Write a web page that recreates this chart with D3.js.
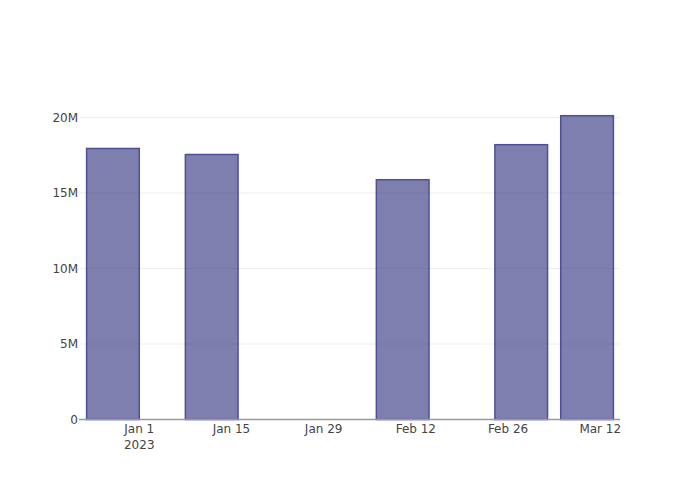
<!DOCTYPE html>
<html>
<head>
<meta charset="utf-8">
<script src="https://cdn.jsdelivr.net/npm/d3@7"></script>
<style>
  body { margin: 0; background: #fff; }
  text { font-family: "DejaVu Sans", sans-serif; font-size: 12px; fill: #444; }
</style>
</head>
<body>
<script>
// bar data (one bar per date)
var dates = ["2022-12-28", "2023-01-12", "2023-02-10", "2023-02-28", "2023-03-10"]
var values = [17.95e6, 17.55e6, 15.88e6, 18.2e6, 20.12e6]

var yTicks = [0, 5e6, 10e6, 15e6, 20e6]
var yTickLabels = ["0", "5M", "10M", "15M", "20M"]
var xTicks = ["2023-01-01", "2023-01-15", "2023-01-29", "2023-02-12", "2023-02-26", "2023-03-12"]
var xTickLabels = ["Jan 1", "Jan 15", "Jan 29", "Feb 12", "Feb 26", "Mar 12"]

var width = 700, height = 500
var left = 80, right = 620, bottom = 419.5

var parse = d3.utcParse("%Y-%m-%d")
var day = 864e5

var x = d3.scaleUtc()
    .domain([parse("2022-12-23"), parse("2023-03-15")])
    .range([left, right])

var y = d3.scaleLinear()
    .domain([0, 20e6])
    .range([bottom, 117.5])

var svg = d3.select("body").append("svg")
    .attr("width", width)
    .attr("height", height)

// grid
svg.append("g").selectAll("line")
    .data(yTicks.slice(1))
    .enter().append("line")
    .attr("x1", left).attr("x2", right)
    .attr("y1", function(d) { return y(d); })
    .attr("y2", function(d) { return y(d); })
    .attr("stroke", "#eee")
    .attr("stroke-width", 1)

// bars, width = 0.8 of the smallest gap (10 days)
var barDays = 8
svg.append("g").selectAll("rect")
    .data(dates)
    .enter().append("rect")
    .attr("x", function(d) { return x(new Date(parse(d).getTime() - barDays / 2 * day)); })
    .attr("width", function(d) {
      var t = parse(d).getTime()
      return x(new Date(t + barDays / 2 * day)) - x(new Date(t - barDays / 2 * day));
    })
    .attr("y", function(d, i) { return y(values[i]); })
    .attr("height", function(d, i) { return y(0) - y(values[i]); })
    .attr("fill", "rgb(72,72,142)")
    .attr("stroke", "rgb(5,5,112)")
    .attr("stroke-width", 1.5)
    .attr("opacity", 0.7)

// x axis line
svg.append("line")
    .attr("x1", left - 1).attr("x2", right)
    .attr("y1", bottom).attr("y2", bottom)
    .attr("stroke", "#999")
    .attr("stroke-width", 1.5)

// y labels
svg.append("g").selectAll("text")
    .data(yTicks)
    .enter().append("text")
    .attr("x", left - 2)
    .attr("y", function(d) { return y(d); })
    .attr("dy", "0.35em")
    .attr("text-anchor", "end")
    .text(function(d, i) { return yTickLabels[i]; })

// x labels
svg.append("g").selectAll("text")
    .data(xTicks)
    .enter().append("text")
    .attr("x", function(d) { return x(parse(d)); })
    .attr("y", 433)
    .attr("text-anchor", "middle")
    .text(function(d, i) { return xTickLabels[i]; })

svg.append("text")
    .attr("x", x(parse(xTicks[0])))
    .attr("y", 449)
    .attr("text-anchor", "middle")
    .text("2023")
</script>
</body>
</html>
